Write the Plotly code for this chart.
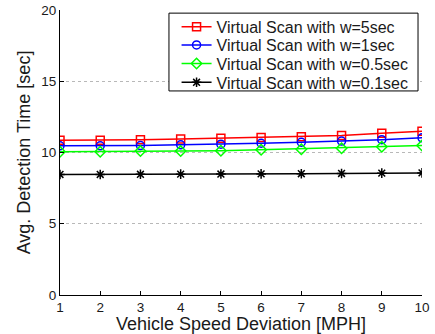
import plotly.graph_objects as go

speed_dev = [1, 2, 3, 4, 5, 6, 7, 8, 9, 10]
w5 = [10.86, 10.86, 10.9, 10.95, 11.0, 11.05, 11.1, 11.2, 11.35, 11.5]
w1 = [10.47, 10.47, 10.49, 10.54, 10.58, 10.65, 10.72, 10.8, 10.9, 11.03]
w05 = [10.05, 10.05, 10.1, 10.1, 10.12, 10.19, 10.23, 10.3, 10.4, 10.49]
w01 = [8.46, 8.46, 8.47, 8.48, 8.49, 8.5, 8.51, 8.53, 8.55, 8.57]
y_ticks = [0, 5, 10, 15, 20]

series = [
    ("Virtual Scan with w=5sec", w5, "#ff0000", "square-open"),
    ("Virtual Scan with w=1sec", w1, "#0000ff", "circle-open"),
    ("Virtual Scan with w=0.5sec", w05, "#00ff00", "diamond-open"),
    ("Virtual Scan with w=0.1sec", w01, "#000000", "asterisk-open"),
]
legend_ids = ["legend", "legend2", "legend3", "legend4"]
legend_rows = [0.941, 0.877, 0.812, 0.746]

FAM = "Liberation Sans, Arial, Helvetica, sans-serif"
TXT = "#1a1a1a"

fig = go.Figure()
for (name, vals, col, sym), lid in zip(series, legend_ids):
    fig.add_trace(go.Scatter(
        x=speed_dev, y=vals, name=name, mode="lines+markers", legend=lid,
        line=dict(color=col, width=1.5),
        marker=dict(symbol=sym, size=8, color=col, line=dict(color=col, width=1.5)),
    ))

legend_layout = {}
for lid, yc in zip(legend_ids, legend_rows):
    legend_layout[lid] = dict(
        x=0.322, y=yc, xanchor="left", yanchor="middle",
        bgcolor="rgba(0,0,0,0)", borderwidth=0,
        font=dict(family=FAM, size=16, color=TXT),
        itemsizing="trace",
    )

fig.update_layout(
    width=435, height=334,
    margin=dict(l=60, r=13, t=10, b=39, autoexpand=False),
    paper_bgcolor="white", plot_bgcolor="white",
    font=dict(family=FAM, size=14, color="black"),
    showlegend=True,
    shapes=[dict(type="rect", xref="paper", yref="paper",
                 x0=0.301, x1=0.989, y0=0.716, y1=0.989,
                 line=dict(color="black", width=1), fillcolor="white",
                 layer="above")],
    xaxis=dict(
        range=[1, 10], tickvals=speed_dev, showgrid=False, zeroline=False,
        showline=True, linecolor="black", linewidth=1, automargin=False,
        ticks="inside", ticklen=4, tickcolor="black",
        tickfont=dict(family=FAM, size=13.5, color=TXT),
        title=dict(text="Vehicle Speed Deviation [MPH]", standoff=0,
                   font=dict(family=FAM, size=18, color=TXT)),
    ),
    yaxis=dict(
        range=[0, 20], tickvals=y_ticks, showgrid=True,
        gridcolor="#b8b8b8", griddash="dot", gridwidth=1, zeroline=False,
        showline=True, linecolor="black", linewidth=1, automargin=False,
        ticks="inside", ticklen=4, tickcolor="black",
        tickfont=dict(family=FAM, size=13.5, color=TXT),
        title=dict(text="Avg. Detection Time [sec]", standoff=5,
                   font=dict(family=FAM, size=18, color=TXT)),
    ),
    **legend_layout,
)

fig.write_html("out.html", config={"displayModeBar": False},
               post_script="document.body.style.margin='0';")
